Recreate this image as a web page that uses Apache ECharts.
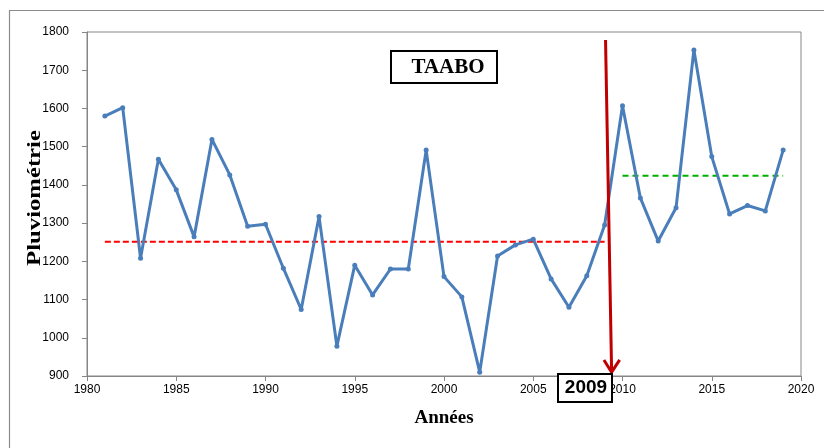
<!DOCTYPE html>
<html>
<head>
<meta charset="utf-8">
<script src="https://cdn.jsdelivr.net/npm/echarts@6/dist/echarts.min.js"></script>
<style>html,body{margin:0;padding:0;background:#fff}#c{width:824px;height:448px}</style>
</head>
<body>
<div id="c"></div>
<script>
const years = [1981,1982,1983,1984,1985,1986,1987,1988,1989,1990,
  1991,1992,1993,1994,1995,1996,1997,1998,1999,2000,
  2001,2002,2003,2004,2005,2006,2007,2008,2009,2010,
  2011,2012,2013,2014,2015,2016,2017,2018,2019];
const rain = [1580,1602,1208,1467,1387,1264,1519,1426,1292,1297,
  1182,1074,1317,978,1190,1112,1180,1180,1491,1160,
  1107,910,1214,1243,1258,1154,1080,1162,1295,1607,
  1366,1253,1340,1753,1474,1324,1346,1332,1491];
const meanBefore = [[1981,1251],[2009,1251]];
const meanAfter = [[2010,1424],[2019,1424]];
const arrowShaft = [[2009.05,1779],[2009.39,912]];
const arrowHead = [[2008.96,942],[2009.39,910],[2009.84,942]];
const yTicks = {min:900, max:1800, interval:100};
const xTicks = {min:1980, max:2020, interval:5};

const chart = echarts.init(document.getElementById('c'), null, {renderer:'canvas'});
const axisGray = '#868686';
const lblFont = "'Liberation Sans Narrow','Arial Narrow','Liberation Sans',sans-serif";
chart.setOption({
  animation:false,
  backgroundColor:'#fff',
  grid:{left:87,right:23,top:32,bottom:72,show:true,borderColor:axisGray,borderWidth:1,backgroundColor:'transparent'},
  xAxis:{type:'value',min:xTicks.min,max:xTicks.max,interval:xTicks.interval,
    axisLine:{show:true,lineStyle:{color:axisGray,width:1}},
    axisTick:{show:true,inside:false,length:5,lineStyle:{color:axisGray}},
    splitLine:{show:false},
    axisLabel:{color:'#000',fontSize:12,fontFamily:lblFont,margin:8,formatter:v=>String(v)},
    name:'Années',nameLocation:'middle',nameGap:33,
    nameTextStyle:{color:'#000',fontSize:19,fontWeight:'bold',fontFamily:"'Liberation Serif','Times New Roman',serif"}
  },
  yAxis:{type:'value',min:yTicks.min,max:yTicks.max,interval:yTicks.interval,
    axisLine:{show:true,lineStyle:{color:axisGray,width:1}},
    axisTick:{show:true,inside:false,length:5,lineStyle:{color:axisGray}},
    splitLine:{show:false},
    axisLabel:{color:'#000',fontSize:12,fontFamily:lblFont,margin:18,formatter:v=>String(v)}
  },
  graphic:[
    {type:'line',shape:{x1:9.5,y1:10,x2:9.5,y2:448},style:{stroke:'#8c8c8c',lineWidth:1.2},z:0},
    {type:'line',shape:{x1:9,y1:10.5,x2:824,y2:10.5},style:{stroke:'#8c8c8c',lineWidth:1.2},z:0},
    {type:'text',x:35,y:198,rotation:Math.PI/2,scaleX:1.3,
      style:{text:'Pluviométrie',font:"bold 19px 'Liberation Serif','Times New Roman',serif",fill:'#000',align:'center',verticalAlign:'middle'},z:10},
    {type:'rect',shape:{x:391,y:51,width:106,height:32},style:{fill:'#fff',stroke:'#000',lineWidth:2},z:10},
    {type:'text',x:448,y:68,style:{text:'TAABO',font:"bold 21px 'Liberation Serif','Times New Roman',serif",fill:'#000',align:'center',verticalAlign:'middle'},z:11},
    {type:'rect',shape:{x:558,y:374,width:54,height:28},style:{fill:'#fff',stroke:'#000',lineWidth:2},z:10},
    {type:'text',x:586,y:388,style:{text:'2009',font:"bold 19px 'Liberation Sans Narrow','Liberation Sans',sans-serif",fill:'#000',align:'center',verticalAlign:'middle'},z:11}
  ],
  series:[
    {type:'line',data:years.map((y,i)=>[y,rain[i]]),symbol:'circle',symbolSize:5,
      lineStyle:{color:'#4A7EBB',width:3},itemStyle:{color:'#4A7EBB'},z:3},
    {type:'line',data:meanBefore,symbol:'none',lineStyle:{color:'#FF0000',width:2,type:[6,3]},z:2},
    {type:'line',data:meanAfter,symbol:'none',lineStyle:{color:'#00B000',width:2,type:[6,4]},z:2},
    {type:'line',data:arrowShaft,symbol:'none',lineStyle:{color:'#C00000',width:3},z:5,clip:false},
    {type:'line',data:arrowHead,symbol:'none',lineStyle:{color:'#C00000',width:3,join:'miter'},z:5,clip:false}
  ]
});
</script>
</body>
</html>
